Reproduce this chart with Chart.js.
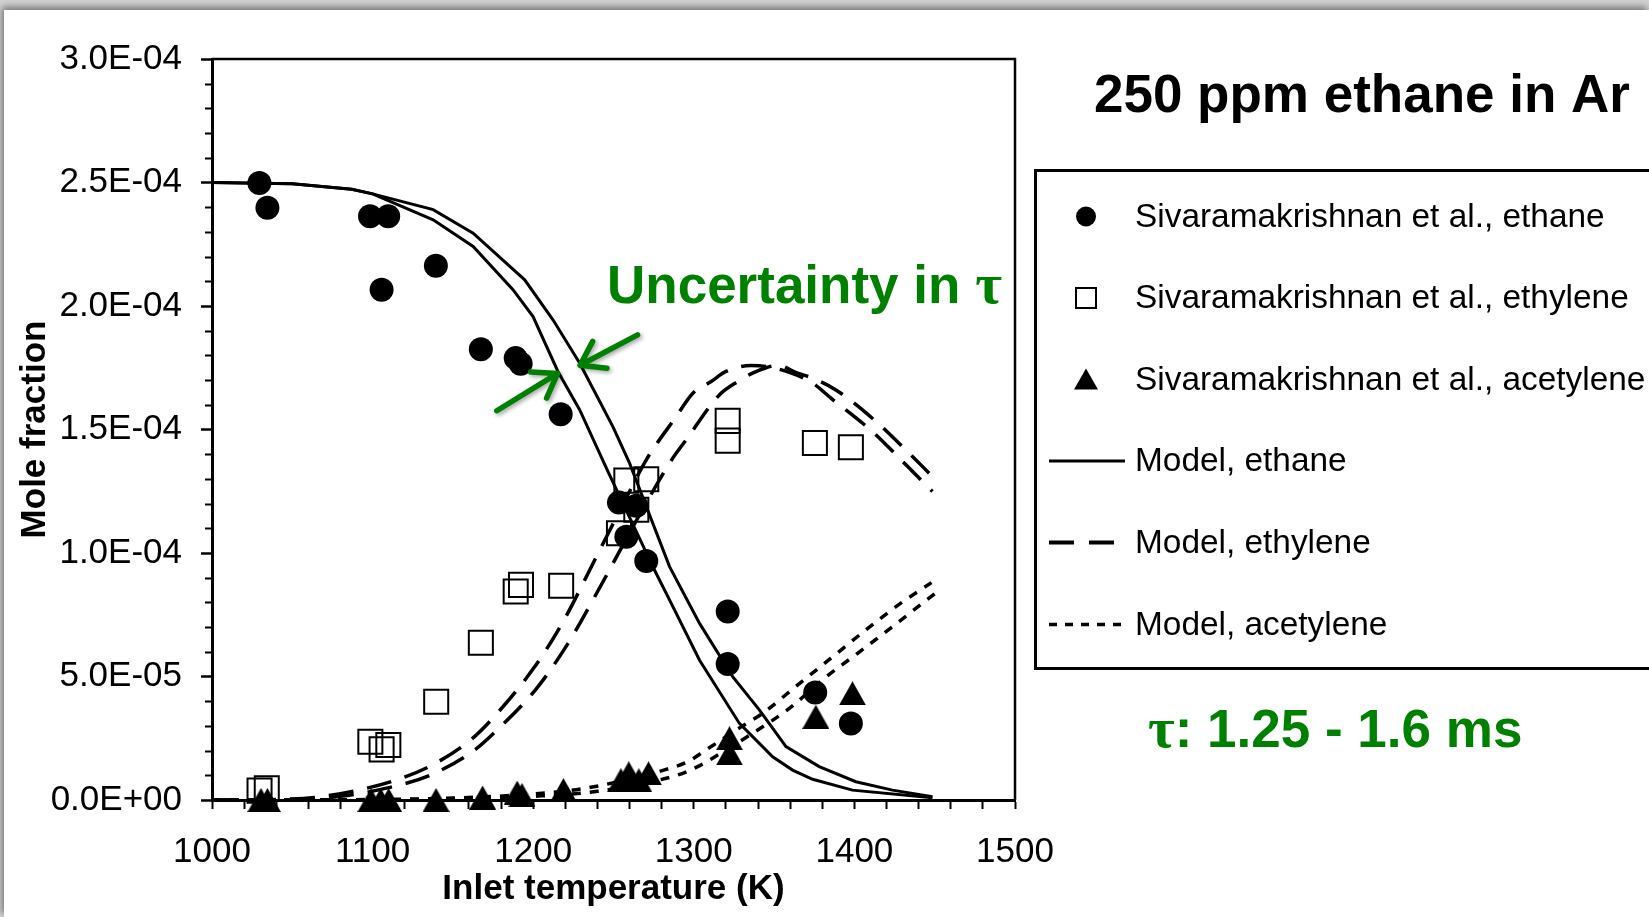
<!DOCTYPE html>
<html>
<head>
<meta charset="utf-8">
<title>250 ppm ethane in Ar</title>
<script src="https://cdn.jsdelivr.net/npm/chart.js@4.4.0/dist/chart.umd.min.js"></script>
<style>
  html, body { margin: 0; padding: 0; width: 1649px; height: 917px; overflow: hidden; background: #d2d2d2; }
  #sheet { position: absolute; left: 4px; top: 10px; width: 1645px; height: 907px; background: #fff;
           box-shadow: -2px -3px 7px rgba(0,0,0,0.45); }
  #c { position: absolute; left: 0; top: 0; }
</style>
</head>
<body>
<div id="sheet"></div>
<canvas id="c" width="1649" height="917"></canvas>
<script>
// Inlet temperature (K) and mole fraction (ppm) of the measured species
const tEthane = [1029.5, 1034.5, 1098.4, 1109.7, 1105.6, 1139.4, 1167.4, 1189.1, 1192.2, 1217.1,
                 1253.4, 1264.2, 1258.0, 1270.4, 1321.1, 1321.1, 1375.6, 1397.8];
const yEthane = [249.8, 239.8, 236.3, 236.3, 206.6, 216.3, 182.5, 178.9, 176.6, 156.2,
                 120.4, 119.1, 106.6, 96.8, 76.3, 55.1, 43.5, 31.0];

const tEthylene = [1029.6, 1034.1, 1098.6, 1105.6, 1109.8, 1139.6, 1167.4, 1189.1, 1192.4, 1217.4,
                   1253.4, 1258.0, 1264.2, 1270.4, 1321.1, 1321.1, 1375.4, 1397.8];
const yEthylene = [3.8, 4.7, 23.6, 20.5, 22.3, 39.8, 63.7, 84.4, 87.1, 86.7,
                   108.0, 129.3, 117.5, 129.9, 153.5, 145.5, 144.5, 142.8];

const tAcetylene = [1030.5, 1034.5, 1099.0, 1105.0, 1110.0, 1139.5, 1168.5, 1190.0, 1193.0, 1218.8,
                    1254.6, 1259.5, 1265.8, 1271.8, 1322.2, 1322.2, 1376.0, 1398.8];
const yAcetylene = [0.0, 0.0, 0.0, 0.0, 0.0, 0.0, 1.0, 3.0, 2.0, 4.0,
                    8.0, 10.8, 8.0, 10.8, 25.0, 18.9, 33.7, 43.2];

// Model, ethane (residence time 1.25 ms and 1.6 ms)
const tModEthaneA = [1000, 1050, 1087, 1100, 1137.7, 1162.6, 1194.7, 1212.3, 1228.9, 1249.6,
                     1260, 1284.9, 1303.5, 1324.2, 1340.8, 1357.4, 1378.1, 1400.9, 1423.7, 1448.6];
const yModEthaneA = [250.0, 249.5, 247.3, 245.4, 239.0, 229.5, 210.6, 194.4, 176.9, 151.2,
                     136.4, 94.5, 71.6, 49.9, 36.5, 21.6, 13.5, 7.4, 4.0, 1.3];
const tModEthaneB = [1000, 1050, 1087, 1100, 1137.7, 1162.6, 1187.4, 1199.9, 1215.4, 1228.9,
                     1246.5, 1275.6, 1285.9, 1303.5, 1328.4, 1349.1, 1361.5, 1374, 1398.8, 1448.6];
const yModEthaneB = [250.0, 249.5, 247.3, 245.4, 234.9, 224.1, 206.6, 195.7, 173.5, 158.0,
                     133.0, 93.0, 79.7, 56.7, 31.0, 17.5, 12.1, 8.4, 4.0, 0.9];

// Model, ethylene
const tModEthyleneA = [1000, 1040, 1064.6, 1089.6, 1113.4, 1137.2, 1161, 1177.6, 1200.2, 1218.1,
                       1239.4, 1255, 1270.4, 1289, 1299.4, 1310.8, 1320, 1335.7, 1345, 1360,
                       1374, 1385.4, 1412.3, 1431, 1448.6];
const yModEthyleneA = [0.0, 0.2, 1.1, 3.8, 7.8, 14.2, 24.3, 35.1, 53.3, 71.6,
                       98.6, 118.5, 137.7, 155.2, 164.7, 169.4, 173.5, 175.9, 175.5, 173.0,
                       168.8, 162.7, 148.5, 136.4, 124.9];
const tModEthyleneB = [1000, 1050, 1080, 1110, 1136, 1162.2, 1177.6, 1201.4, 1220.4, 1239.5,
                       1265, 1286.9, 1295.2, 1315.9, 1327.3, 1336.6, 1345, 1352, 1364.6, 1374,
                       1388.5, 1412.3, 1431, 1449.6];
const yModEthyleneB = [0.0, 0.2, 1.5, 5.0, 10.1, 19.6, 28.4, 44.6, 62.1, 83.7,
                       114.0, 138.4, 145.8, 164.0, 169.4, 172.8, 175.0, 176.0, 172.8, 170.8,
                       166.0, 153.9, 142.4, 130.3];

// Model, acetylene
const tModAcetyleneA = [1000, 1100, 1150, 1190, 1230, 1260, 1282.8, 1296.2, 1307.7, 1330.4,
                        1342.9, 1364.7, 1385.4, 1407.2, 1428.9, 1448];
const yModAcetyleneA = [0.0, 0.2, 0.8, 2.0, 4.5, 8.5, 12.4, 15.5, 20.3, 30.0,
                        35.1, 46.6, 57.4, 68.9, 79.7, 88.0];
const tModAcetyleneB = [1000, 1150, 1200, 1240, 1270, 1290, 1302.4, 1314.9, 1336.6, 1359.5,
                        1381.3, 1402, 1423.7, 1450];
const yModAcetyleneB = [0.0, 0.3, 1.5, 3.5, 7.0, 10.1, 13.5, 18.2, 27.0, 37.1,
                        49.3, 59.4, 70.2, 83.5];

// Tick values: mole-fraction axis in ppm (labelled as mole fraction), temperature axis in K
const yTickValues = [0, 50, 100, 150, 200, 250, 300];
const xTickValues = [1000, 1100, 1200, 1300, 1400, 1500];

const legendLabels = [
  'Sivaramakrishnan et al., ethane',
  'Sivaramakrishnan et al., ethylene',
  'Sivaramakrishnan et al., acetylene',
  'Model, ethane',
  'Model, ethylene',
  'Model, acetylene'
];

// Annotation arrows (temperature, ppm) : tail -> tip
const arrowUpper = { from: [1265.0, 188.3], to: [1229.2, 176.0] };
const arrowLower = { from: [1177.3, 157.6], to: [1215.2, 172.7] };

const SANS = '"Liberation Sans", Arial, Helvetica, sans-serif';
const SERIF = '"Liberation Serif", "Times New Roman", serif';
const GREEN = '#008000';

Chart.defaults.font.family = SANS;
Chart.defaults.color = '#000';

function pts(xs, ys) { return xs.map((x, i) => ({ x: x, y: ys[i] })); }

function sciLabel(v) {
  const s = (v * 1e-6).toExponential(1);
  const parts = s.split('e');
  const e = parseInt(parts[1], 10);
  return parts[0] + 'E' + (e < 0 ? '-' : '+') + String(Math.abs(e)).padStart(2, '0');
}

// filled triangle marker, centred on its bounding box
function triangleMarker(w, h) {
  const c = document.createElement('canvas');
  c.width = w; c.height = h;
  const g = c.getContext('2d');
  g.fillStyle = '#000';
  g.beginPath();
  g.moveTo(w / 2, 0);
  g.lineTo(w, h);
  g.lineTo(0, h);
  g.closePath();
  g.fill();
  return c;
}
const TRI = triangleMarker(27, 24);

const DASH = [25, 14];
const DOT = [9, 9];

function modelLine(label, xs, ys, dash, width, tension) {
  return {
    label: label, data: pts(xs, ys), showLine: true, fill: false,
    borderColor: '#000', borderWidth: width, borderDash: dash,
    pointRadius: 0, pointHoverRadius: 0, tension: tension,
    cubicInterpolationMode: tension ? 'monotone' : 'default',
    order: 2
  };
}

const datasets = [
  { label: legendLabels[0], data: pts(tEthane, yEthane), showLine: false, clip: false,
    pointStyle: 'circle', pointRadius: 12, backgroundColor: '#000', borderColor: '#000', borderWidth: 0, order: 0 },
  { label: legendLabels[1], data: pts(tEthylene, yEthylene), showLine: false, clip: false,
    pointStyle: 'rect', pointRadius: 17, backgroundColor: 'rgba(0,0,0,0)', borderColor: '#000', borderWidth: 2, order: 0 },
  { label: legendLabels[2], data: pts(tAcetylene, yAcetylene), showLine: false, clip: false,
    pointStyle: TRI, pointRadius: 14, backgroundColor: '#000', borderColor: '#000', borderWidth: 0, order: 0 },
  modelLine(legendLabels[3], tModEthaneA, yModEthaneA, [], 3, 0),
  modelLine(legendLabels[3], tModEthaneB, yModEthaneB, [], 3, 0),
  modelLine(legendLabels[4], tModEthyleneA, yModEthyleneA, DASH, 3.5, 0.4),
  modelLine(legendLabels[4], tModEthyleneB, yModEthyleneB, DASH, 3.5, 0.4),
  modelLine(legendLabels[5], tModAcetyleneA, yModAcetyleneA, DOT, 3.5, 0.4),
  modelLine(legendLabels[5], tModAcetyleneB, yModAcetyleneB, DOT, 3.5, 0.4)
];

function drawArrow(ctx, x1, y1, x2, y2) {
  const ang = Math.atan2(y2 - y1, x2 - x1);
  const arm = 27, spread = 0.6;
  ctx.beginPath();
  ctx.moveTo(x1, y1);
  ctx.lineTo(x2, y2);
  ctx.moveTo(x2 - arm * Math.cos(ang - spread), y2 - arm * Math.sin(ang - spread));
  ctx.lineTo(x2, y2);
  ctx.lineTo(x2 - arm * Math.cos(ang + spread), y2 - arm * Math.sin(ang + spread));
  ctx.stroke();
}

const decor = {
  id: 'decor',
  afterDraw(chart) {
    const ctx = chart.ctx;
    const xs = chart.scales.x, ys = chart.scales.y;
    const a = chart.chartArea;
    ctx.save();

    // frame on top and right of the plot area
    ctx.strokeStyle = '#000';
    ctx.lineWidth = 2.5;
    ctx.beginPath();
    ctx.moveTo(a.left, a.top);
    ctx.lineTo(a.right, a.top);
    ctx.lineTo(a.right, a.bottom);
    ctx.stroke();

    // minor ticks on the mole-fraction axis
    ctx.lineWidth = 2;
    ctx.beginPath();
    for (let v = 0; v <= 300; v += 10) {
      if (v % 50 === 0) continue;
      const py = Math.round(ys.getPixelForValue(v)) + 0.5;
      ctx.moveTo(a.left - 7, py);
      ctx.lineTo(a.left, py);
    }
    ctx.stroke();

    // green arrows pointing at the two model curves
    ctx.save();
    ctx.strokeStyle = GREEN;
    ctx.lineWidth = 5.5;
    ctx.lineCap = 'round';
    ctx.lineJoin = 'round';
    ctx.shadowColor = 'rgba(0,0,0,0.35)';
    ctx.shadowBlur = 4;
    ctx.shadowOffsetX = 2;
    ctx.shadowOffsetY = 2;
    [arrowUpper, arrowLower].forEach(ar => {
      drawArrow(ctx,
        xs.getPixelForValue(ar.from[0]), ys.getPixelForValue(ar.from[1]),
        xs.getPixelForValue(ar.to[0]), ys.getPixelForValue(ar.to[1]));
    });
    ctx.restore();

    // annotation texts
    ctx.textBaseline = 'alphabetic';
    ctx.fillStyle = GREEN;
    ctx.textAlign = 'left';
    ctx.font = 'bold 53px ' + SANS;
    const unc = 'Uncertainty in ';
    ctx.fillText(unc, 607, 303);
    const uw = ctx.measureText(unc).width;
    ctx.font = 'bold 58px ' + SERIF;
    ctx.fillText('τ', 607 + uw, 303);

    ctx.font = 'bold 58px ' + SERIF;
    ctx.fillText('τ', 1148, 747);
    const tw = ctx.measureText('τ').width;
    ctx.font = 'bold 53px ' + SANS;
    ctx.fillText(': 1.25 - 1.6 ms', 1148 + tw, 747);

    ctx.fillStyle = '#000';
    ctx.textAlign = 'right';
    ctx.font = 'bold 53px ' + SANS;
    ctx.fillText('250 ppm ethane in Ar', 1630, 112);

    // legend box
    ctx.lineWidth = 3;
    ctx.strokeStyle = '#000';
    ctx.strokeRect(1035.5, 170.5, 640, 498);

    const rowY = [216.5, 298, 379.5, 461, 542.5, 624.5];
    const mx = 1086;
    ctx.fillStyle = '#000';
    // circle
    ctx.beginPath();
    ctx.arc(mx, rowY[0], 10, 0, Math.PI * 2);
    ctx.fill();
    // square
    ctx.lineWidth = 2;
    ctx.strokeRect(mx - 10, rowY[1] - 10, 20, 20);
    // triangle
    ctx.beginPath();
    ctx.moveTo(mx, rowY[2] - 11);
    ctx.lineTo(mx + 12, rowY[2] + 10);
    ctx.lineTo(mx - 12, rowY[2] + 10);
    ctx.closePath();
    ctx.fill();
    // line samples
    const samples = [[[], 3, 1049, 1125], [[25, 15], 4, 1049, 1116], [[8, 8], 3.5, 1049, 1121]];
    samples.forEach((s, i) => {
      ctx.save();
      ctx.setLineDash(s[0]);
      ctx.lineWidth = s[1];
      ctx.beginPath();
      ctx.moveTo(s[2], rowY[3 + i]);
      ctx.lineTo(s[3], rowY[3 + i]);
      ctx.stroke();
      ctx.restore();
    });
    ctx.textAlign = 'left';
    ctx.textBaseline = 'middle';
    ctx.font = '33.4px ' + SANS;
    legendLabels.forEach((t, i) => ctx.fillText(t, 1135, rowY[i] + 1));

    ctx.restore();
  }
};

new Chart(document.getElementById('c'), {
  type: 'scatter',
  data: { datasets: datasets },
  options: {
    responsive: false,
    animation: false,
    devicePixelRatio: 1,
    events: [],
    layout: { padding: { top: 59, right: 634, left: 0, bottom: 0 } },
    plugins: { legend: { display: false }, tooltip: { enabled: false } },
    scales: {
      x: {
        type: 'linear', min: 1000, max: 1500,
        afterFit(s) { s.height = 117; },
        ticks: {
          stepSize: 20, autoSkip: false, maxRotation: 0, minRotation: 0, padding: 22,
          font: { size: 35 }, color: '#000',
          callback: v => (xTickValues.includes(v) ? String(v) : '')
        },
        grid: { drawOnChartArea: false, drawTicks: true, tickLength: 9, tickWidth: 2, tickColor: '#000' },
        border: { display: true, color: '#000', width: 3 },
        title: { display: true, text: 'Inlet temperature (K)', color: '#000',
                 font: { size: 35, weight: 'bold' }, padding: { top: 0, bottom: 7 } }
      },
      y: {
        type: 'linear', min: 0, max: 300,
        afterFit(s) { s.width = 212; },
        afterBuildTicks(s) { s.ticks = yTickValues.map(v => ({ value: v })); },
        ticks: {
          stepSize: 50, padding: 19, font: { size: 35 }, color: '#000',
          callback: v => sciLabel(v)
        },
        grid: { drawOnChartArea: false, drawTicks: true, tickLength: 11, tickWidth: 2.5, tickColor: '#000' },
        border: { display: true, color: '#000', width: 3 },
        title: { display: true, text: 'Mole fraction', color: '#000',
                 font: { size: 35, weight: 'bold' }, padding: { top: 14, bottom: 0 } }
      }
    }
  },
  plugins: [decor]
});
</script>
</body>
</html>
